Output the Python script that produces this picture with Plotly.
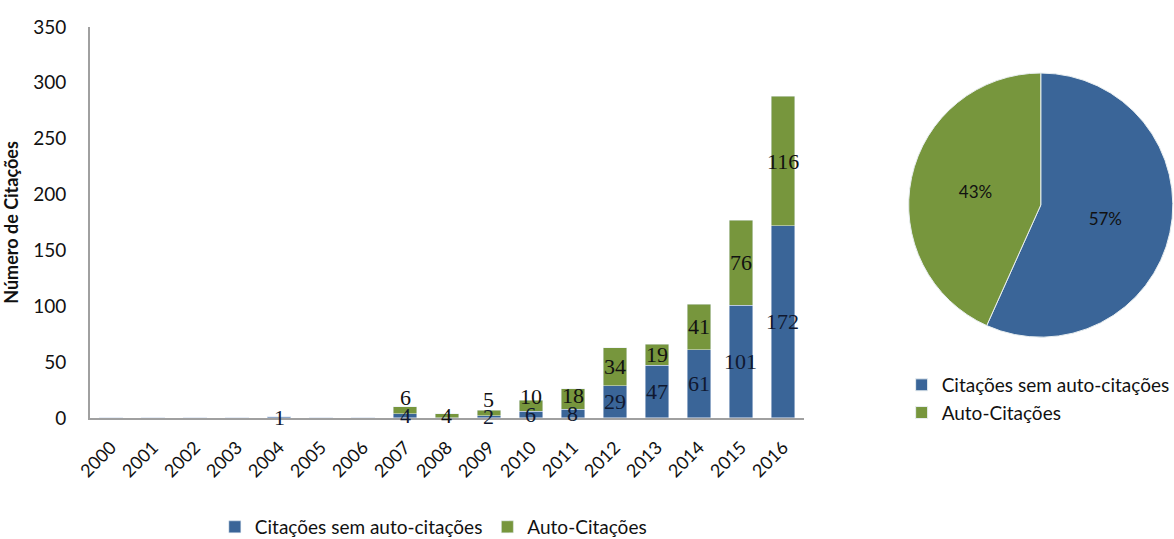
import plotly.graph_objects as go

# Annual citation counts
anos = ["2000", "2001", "2002", "2003", "2004", "2005", "2006", "2007",
        "2008", "2009", "2010", "2011", "2012", "2013", "2014", "2015", "2016"]
sem_auto = [0, 0, 0, 0, 1, 0, 0, 4, 0, 2, 6, 8, 29, 47, 61, 101, 172]
auto_cit = [0, 0, 0, 0, 0, 0, 0, 6, 4, 5, 10, 18, 34, 19, 41, 76, 116]

nome_sem = "Citações sem auto-citações"
nome_auto = "Auto-Citações"
y_ticks = [0, 50, 100, 150, 200, 250, 300, 350]

AZUL = "#3A6598"
VERDE = "#77963D"
FONTE = "Lato, 'Open Sans', sans-serif"
FONTE_ROT = "'Liberation Serif', serif"

fig = go.Figure()

fig.add_trace(go.Bar(x=anos, y=sem_auto, name=nome_sem, marker_color=AZUL,
                     width=0.55, legend="legend"))
fig.add_trace(go.Bar(x=anos, y=auto_cit, name=nome_auto, marker_color=VERDE,
                     width=0.55, legend="legend"))

# Value labels: centred in each segment; a green label that would collide with
# the blue label below it is lifted above it. On the category axis the
# annotations are placed by category index.
GAP = 16
for i, (a, b) in enumerate(zip(sem_auto, auto_cit)):
    y_a = a / 2
    if a > 0:
        fig.add_annotation(x=i, y=y_a, text=str(a), showarrow=False,
                           font=dict(family=FONTE_ROT, size=22, color="#101830"))
    if b > 0:
        y_b = a + b / 2
        if a > 0:
            y_b = max(y_b, y_a + GAP)
        fig.add_annotation(x=i, y=y_b, text=str(b), showarrow=False,
                           font=dict(family=FONTE_ROT, size=22, color="#111"))

# Share of each citation type over the whole period
fig.add_trace(go.Pie(labels=[nome_sem, nome_auto],
                     values=[sum(sem_auto), sum(auto_cit)],
                     marker=dict(colors=[AZUL, VERDE], line=dict(color="#E8EEF0", width=1)),
                     sort=False, direction="clockwise", rotation=0,
                     textinfo="percent", texttemplate="%{percent:.0%}",
                     textposition="inside", insidetextorientation="horizontal",
                     textfont=dict(family=FONTE, size=17, color="#111"),
                     domain=dict(x=[0.774, 0.999], y=[0.373, 0.866]),
                     hoverinfo="label+value+percent", legend="legend2"))

fig.update_layout(
    width=1174, height=539,
    margin=dict(l=0, r=0, t=0, b=0, autoexpand=False),
    paper_bgcolor="white", plot_bgcolor="white",
    barmode="stack",
    font=dict(family=FONTE, size=17, color="#111"),
    xaxis=dict(type="category", domain=[0.0767, 0.6848], showline=True,
               range=[-0.5, len(anos) - 0.5],
               linecolor="#A0A0A0", linewidth=2, ticks="", tickangle=-45,
               showgrid=False, tickfont=dict(size=18), fixedrange=True,
               ticklabelstandoff=10, automargin=False),
    yaxis=dict(domain=[0.2245, 0.95], range=[0, 350], tickvals=y_ticks,
               showline=True, linecolor="#A0A0A0", linewidth=2, ticks="",
               showgrid=False, zeroline=False, ticklabelstandoff=18,
               tickfont=dict(size=19), automargin=False,
               title=dict(text="<b>Número de Citações</b>", font=dict(size=18),
                          standoff=14)),
    legend=dict(orientation="h", x=0.183, y=0.0223, xanchor="left",
                yanchor="middle", font=dict(size=19), bgcolor="rgba(0,0,0,0)",
                traceorder="normal"),
    legend2=dict(orientation="v", x=0.768, y=0.321, xanchor="left",
                 yanchor="top", font=dict(size=19), bgcolor="rgba(0,0,0,0)"),
    showlegend=True,
)

fig.write_html("out.html")
